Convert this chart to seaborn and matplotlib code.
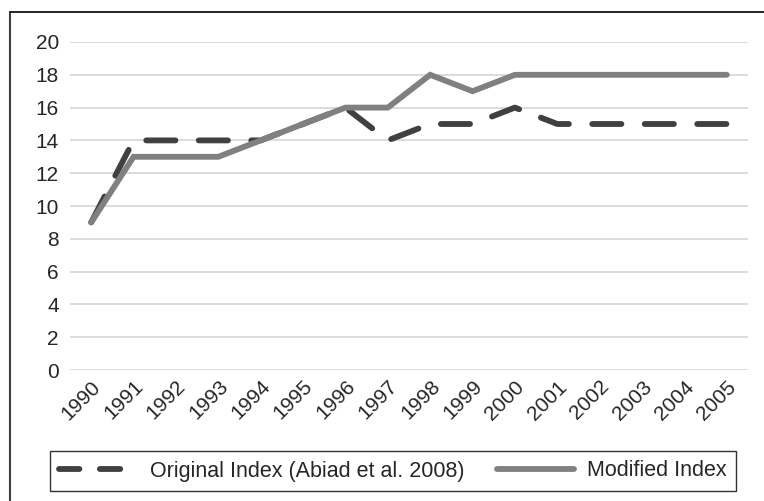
import matplotlib
matplotlib.use("Agg")
import matplotlib.pyplot as plt
import seaborn as sns
import pandas as pd
from matplotlib.lines import Line2D

years = list(range(1990, 2006))
original_index = [9, 14, 14, 14, 14, 15, 16, 14, 15, 15, 16, 15, 15, 15, 15, 15]
modified_index = [9, 13, 13, 13, 14, 15, 16, 16, 18, 17, 18, 18, 18, 18, 18, 18]
series_names = ["Original Index (Abiad et al. 2008)", "Modified Index"]

df = pd.DataFrame({
    "year": years * 2,
    "value": original_index + modified_index,
    "series": [series_names[0]] * len(years) + [series_names[1]] * len(years),
})

sns.set_style("white")
plt.rcParams["font.family"] = ["Liberation Sans", "DejaVu Sans"]

fig = plt.figure(figsize=(7.64, 5.01), dpi=100)
ax = fig.add_axes([70 / 764, 1 - 370 / 501, (748 - 70) / 764, (370 - 42) / 501])

sns.lineplot(data=df, x="year", y="value", hue="series", style="series",
             palette={series_names[0]: "#404040", series_names[1]: "#808080"},
             dashes={series_names[0]: (5, 4), series_names[1]: ""},
             linewidth=4.2, ax=ax, legend=False)
for ln in ax.lines:
    ln.set_dash_capstyle("round")
    ln.set_solid_capstyle("round")
    ln.set_solid_joinstyle("miter")

ax.set_xlim(1989.5, 2005.5)
ax.set_ylim(0, 20)
ax.set_yticks(range(0, 21, 2))
ax.set_xticks(years)
ax.set_xticklabels([str(y) for y in years], rotation=45, ha="right",
                   rotation_mode="anchor", fontsize=15)
ax.tick_params(axis="y", labelsize=15, length=0, pad=8)
ax.tick_params(axis="x", length=0, pad=5)
ax.set_xlabel("")
ax.set_ylabel("")
ax.yaxis.grid(True, color="#d9d9d9", linewidth=1.3)
ax.xaxis.grid(False)
for s in ax.spines.values():
    s.set_visible(False)

handles = [
    Line2D([], [], color="#404040", linewidth=4.2, dashes=(3.5, 3.5), dash_capstyle="round"),
    Line2D([], [], color="#808080", linewidth=4.2, solid_capstyle="round"),
]
leg = fig.legend(handles, series_names, loc="center",
                 bbox_to_anchor=((48 + 738) / 2 / 764, 1 - 471 / 501),
                 ncol=2, frameon=True, fancybox=False, fontsize=15.5,
                 handlelength=3.6, columnspacing=1.5, borderpad=0.45,
                 edgecolor="black", handletextpad=0.6)
leg.get_frame().set_linewidth(1.0)

# outer frame (left and top only)
fig.add_artist(Line2D([10 / 764, 10 / 764], [0, 1 - 12 / 501], color="#404040",
                      linewidth=1.5, transform=fig.transFigure))
fig.add_artist(Line2D([10 / 764, 1], [1 - 12 / 501, 1 - 12 / 501], color="black",
                      linewidth=1.2, transform=fig.transFigure))

fig.savefig("out.png", dpi=100)
